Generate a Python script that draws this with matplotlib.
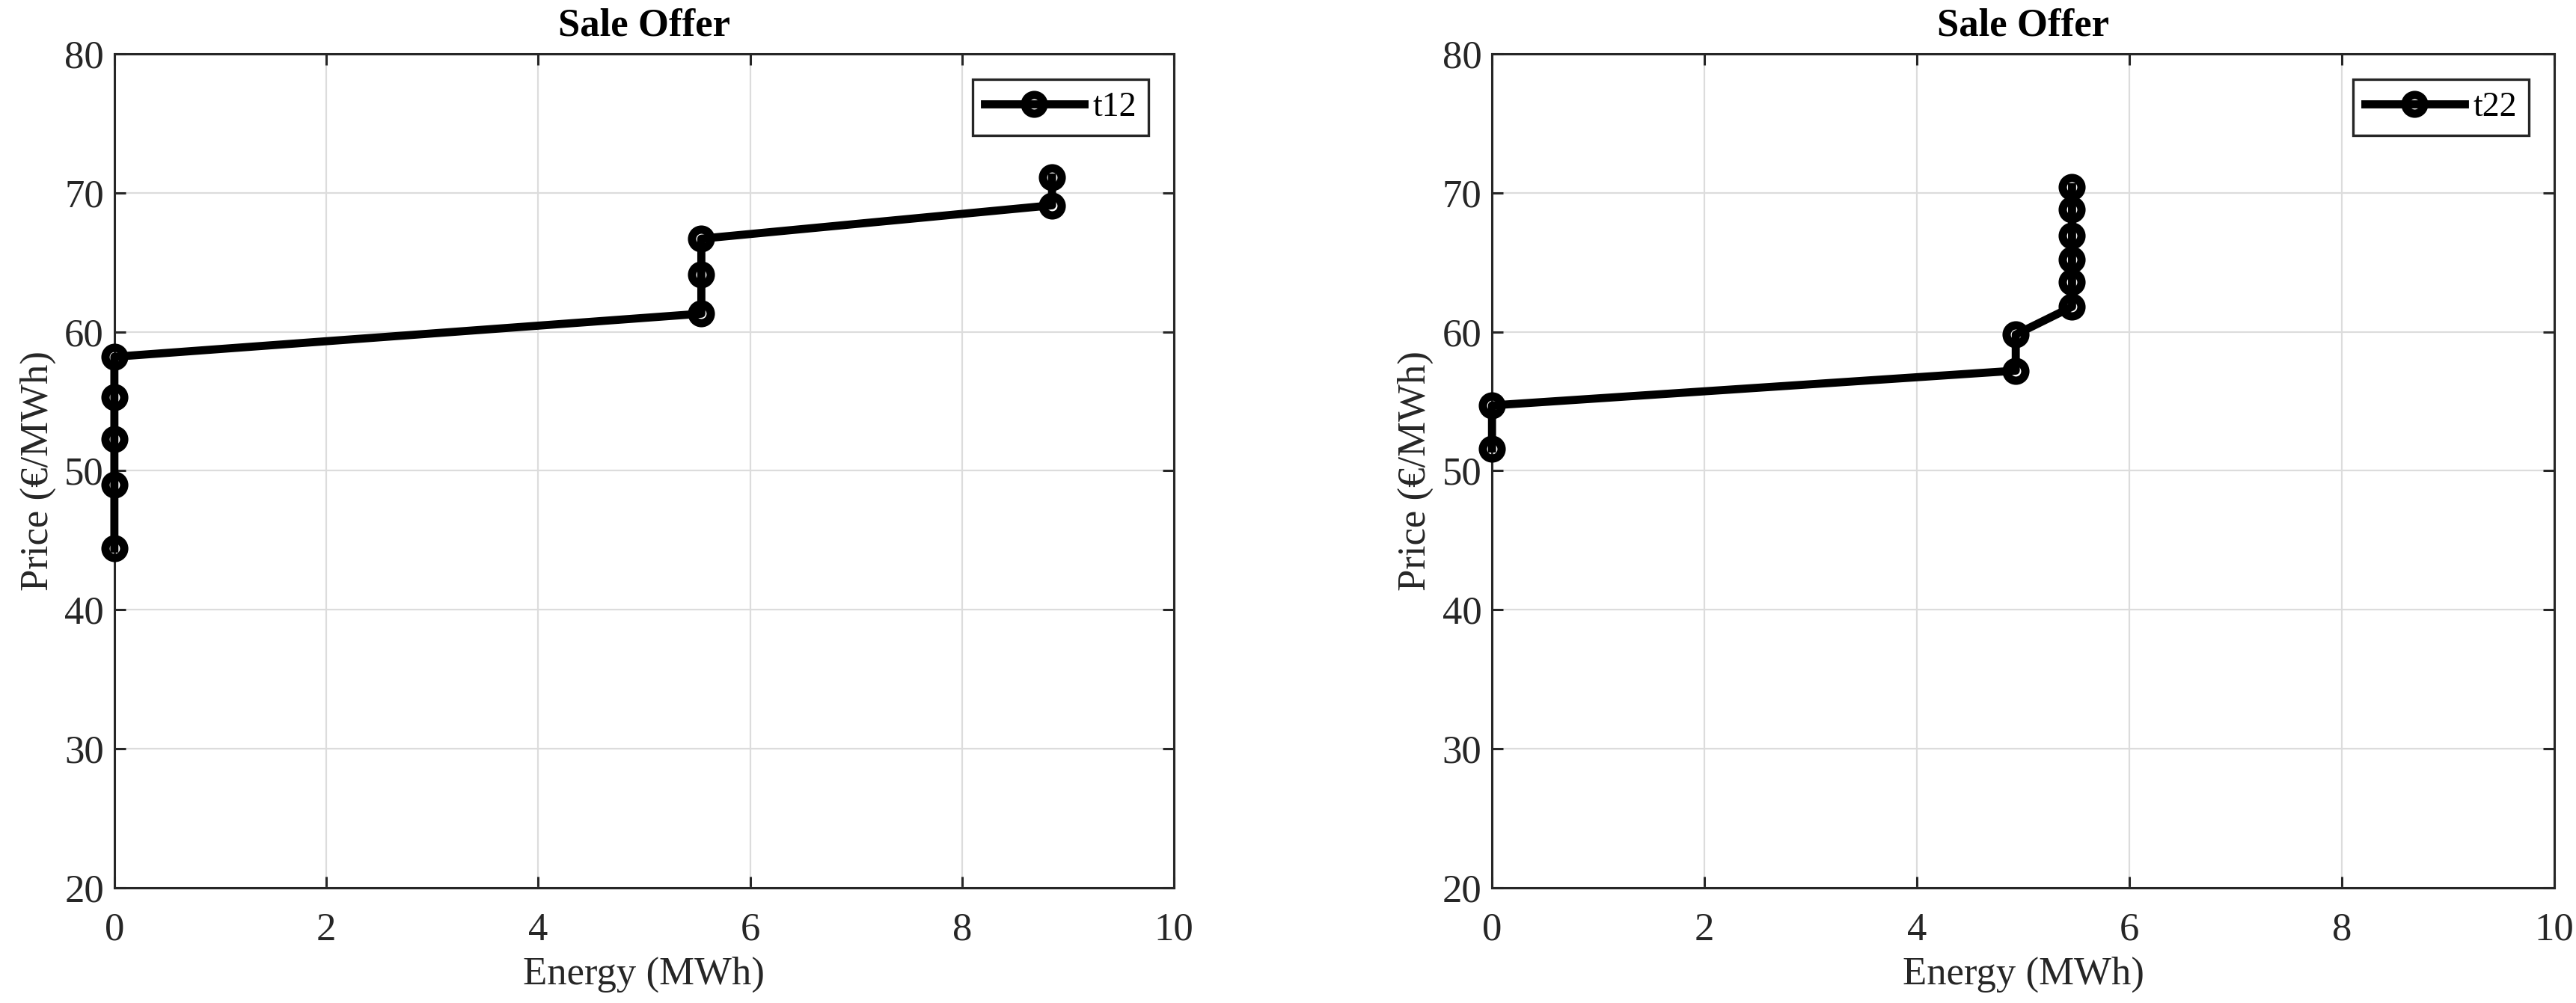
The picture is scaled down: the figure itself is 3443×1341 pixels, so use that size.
import matplotlib
matplotlib.use("Agg")
import matplotlib.pyplot as plt

# Data
energy_t12 = [0.0, 0.0, 0.0, 0.0, 0.0, 5.54, 5.54, 5.54, 8.85, 8.85]
price_t12 = [44.4, 49.0, 52.3, 55.3, 58.2, 61.3, 64.1, 66.7, 69.1, 71.1]
energy_t22 = [0.0, 0.0, 4.93, 4.93, 5.46, 5.46, 5.46, 5.46, 5.46, 5.46]
price_t22 = [51.6, 54.7, 57.2, 59.8, 61.8, 63.6, 65.2, 66.9, 68.8, 70.4]
labels = ["t12", "t22"]
title = "Sale Offer"
xlabel = "Energy (MWh)"
ylabel = "Price (€/MWh)"
xticks = [0, 2, 4, 6, 8, 10]
yticks = [20, 30, 40, 50, 60, 70, 80]

plt.rcParams['font.family'] = ['Liberation Serif', 'DejaVu Serif']

fig = plt.figure(figsize=(34.43, 13.41), dpi=100)
axes_pos = [[0.0444, 0.1151, 0.4113, 0.8312], [0.5792, 0.1151, 0.4124, 0.8312]]
series = [(energy_t12, price_t12), (energy_t22, price_t22)]
spine_c = '#262626'

for pos, (xs, ys), lab in zip(axes_pos, series, labels):
    ax = fig.add_axes(pos)
    ax.plot(xs, ys, color='black', lw=7.8, marker='o', ms=18, mew=8,
            mfc='none', mec='black', label=lab, clip_on=False, zorder=5)
    ax.set_xlim(0, 10)
    ax.set_ylim(20, 80)
    ax.set_xticks(xticks)
    ax.set_yticks(yticks)
    ax.grid(True, color='#dcdcdc', lw=1.6)
    ax.set_axisbelow(True)
    for s in ax.spines.values():
        s.set_color(spine_c)
        s.set_linewidth(2.2)
    ax.tick_params(direction='in', length=11, width=2.2, color=spine_c,
                   labelcolor=spine_c, labelsize=38, top=True, right=True)
    ax.tick_params(axis='x', pad=24)
    ax.tick_params(axis='y', pad=10)
    ax.set_title(title, fontsize=38, fontweight='bold', pad=18)
    ax.set_xlabel(xlabel, fontsize=38, color=spine_c, labelpad=8)
    ax.set_ylabel(ylabel, fontsize=38, color=spine_c, labelpad=8)
    leg = ax.legend(loc='upper right', fontsize=33, frameon=True, fancybox=False,
                    handlelength=2.9, handletextpad=0.25, borderpad=0.35,
                    borderaxespad=0.75, edgecolor='#262626')
    leg.get_frame().set_linewidth(2.4)
    leg.get_frame().set_alpha(1)
    leg.set_zorder(10)

fig.savefig('out.png', dpi=100)
